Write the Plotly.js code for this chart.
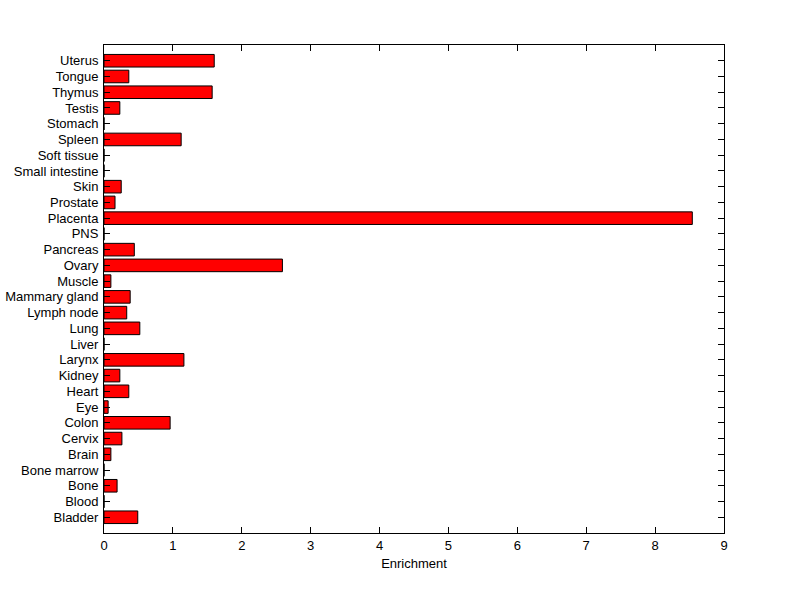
<!DOCTYPE html>
<html>
<head>
<meta charset="utf-8">
<script src="https://cdn.plot.ly/plotly-3.0.1.min.js"></script>
<style>html,body{margin:0;padding:0;background:#fff;}#chart{width:800px;height:599px;}</style>
</head>
<body>
<div id="chart"></div>
<script>
const tissues = ["Bladder","Blood","Bone","Bone marrow","Brain","Cervix","Colon","Eye","Heart","Kidney","Larynx","Liver","Lung","Lymph node","Mammary gland","Muscle","Ovary","Pancreas","PNS","Placenta","Prostate","Skin","Small intestine","Soft tissue","Spleen","Stomach","Testis","Thymus","Tongue","Uterus"];
const enrichment = [0.49,0,0.19,0,0.10,0.26,0.96,0.06,0.36,0.23,1.16,0,0.52,0.33,0.38,0.10,2.59,0.44,0,8.54,0.16,0.25,0,0,1.12,0,0.23,1.57,0.36,1.60];
const xTicks = [0,1,2,3,4,5,6,7,8,9];

const fontFam = "Liberation Sans, Arial, Helvetica, sans-serif";
const trace = {
  type: 'bar',
  orientation: 'h',
  x: enrichment,
  y: tissues,
  width: 0.8,
  marker: {color: '#ff0000', line: {color: '#000000', width: 1}},
  hoverinfo: 'x+y'
};
const layout = {
  width: 800, height: 599,
  margin: {l: 104, r: 76, t: 45, b: 66},
  paper_bgcolor: '#ffffff', plot_bgcolor: '#ffffff',
  showlegend: false,
  font: {family: fontFam, size: 13, color: '#000'},
  xaxis: {
    range: [0, 9], autorange: false,
    tickmode: 'array', tickvals: xTicks, ticktext: xTicks.map(String),
    ticks: 'inside', ticklen: 6, tickwidth: 1, tickcolor: '#000',
    showline: true, linecolor: '#000', linewidth: 1, mirror: 'ticks',
    showgrid: false, zeroline: false,
    tickfont: {family: fontFam, size: 13, color: '#000'},
    title: {text: 'Enrichment', font: {family: fontFam, size: 13, color: '#000'}, standoff: 7}
  },
  yaxis: {
    type: 'category',
    categoryorder: 'array', categoryarray: tissues,
    tickmode: 'array', tickvals: tissues, ticktext: tissues,
    range: [-1, 30], autorange: false,
    ticks: 'inside', ticklen: 6, tickwidth: 1, tickcolor: '#000',
    ticklabelstandoff: 2,
    showline: true, linecolor: '#000', linewidth: 1, mirror: 'ticks',
    showgrid: false, zeroline: false,
    tickfont: {family: fontFam, size: 13, color: '#000'}
  }
};
Plotly.newPlot('chart', [trace], layout, {displayModeBar: false, staticPlot: true});
</script>
</body>
</html>
